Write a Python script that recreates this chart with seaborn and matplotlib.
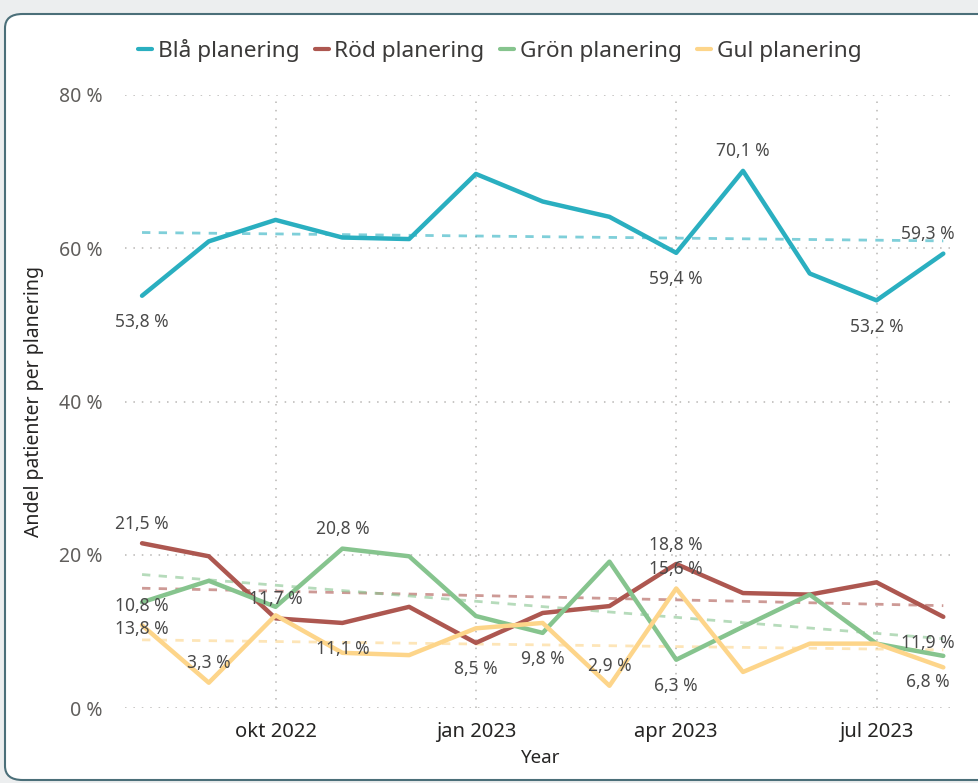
import numpy as np
import pandas as pd
import seaborn as sns
import matplotlib.pyplot as plt
from matplotlib.patches import FancyBboxPatch
from matplotlib.lines import Line2D

sns.set_theme(style="white")
plt.rcParams["font.family"] = ["Noto Sans", "DejaVu Sans"]

months = ["2022-08", "2022-09", "2022-10", "2022-11", "2022-12", "2023-01", "2023-02",
          "2023-03", "2023-04", "2023-05", "2023-06", "2023-07", "2023-08"]
tick_months = ["2022-10", "2023-01", "2023-04", "2023-07"]
tick_labels = ["okt 2022", "jan 2023", "apr 2023", "jul 2023"]

series_names = ["Blå planering", "Röd planering", "Grön planering", "Gul planering"]
bla = [53.8, 60.9, 63.7, 61.4, 61.2, 69.7, 66.1, 64.1, 59.4, 70.1, 56.7, 53.2, 59.3]
rod = [21.5, 19.8, 11.7, 11.1, 13.2, 8.5, 12.4, 13.3, 18.8, 15.0, 14.8, 16.4, 11.9]
gron = [13.8, 16.6, 13.2, 20.8, 19.8, 12.0, 9.8, 19.1, 6.3, 10.6, 14.8, 8.4, 6.8]
gul = [10.8, 3.3, 12.1, 7.2, 6.9, 10.4, 11.1, 2.9, 15.6, 4.7, 8.4, 8.4, 5.3]

colors = ["#2aafc0", "#ad5750", "#86c48e", "#fdd58a"]

# which points carry a data label, and whether it sits above (+1) or below (-1)
label_points = {
    "Blå planering": [(0, -1), (8, -1), (9, 1), (11, -1), (12, 1)],
    "Röd planering": [(0, 1), (2, 1), (3, -1), (5, -1), (8, 1), (12, -1)],
    "Grön planering": [(0, -1), (3, 1), (6, -1), (8, -1), (12, -1)],
    "Gul planering": [(0, 1), (1, 1), (7, 1), (8, 1)],
}

pos = list(range(len(months)))
df = pd.DataFrame({
    "pos": pos * 4,
    "value": bla + rod + gron + gul,
    "serie": np.repeat(series_names, len(months)),
})

fig = plt.figure(figsize=(9.79, 7.83), dpi=100)
fig.patch.set_facecolor("#eceeef")
card = FancyBboxPatch((5 / 979, 3 / 783), 1.2, 766 / 783,
                      boxstyle="round,pad=0,rounding_size=0.018",
                      transform=fig.transFigure, facecolor="white",
                      edgecolor="#4b6f79", linewidth=1.5, zorder=-10)
fig.patches.append(card)

ax = fig.add_axes([125 / 979, 1 - 708 / 783, 831 / 979, 613 / 783])
ax.set_facecolor("none")
ax.set_zorder(2)

# trend lines
for name, vals, c in zip(series_names, [bla, rod, gron, gul], colors):
    sns.regplot(x=pos, y=vals, scatter=False, ci=None, truncate=True, ax=ax,
                line_kws=dict(color=c, ls=(0, (3, 3)), lw=2, alpha=0.6, zorder=2))

sns.lineplot(data=df, x="pos", y="value", hue="serie", palette=colors,
             linewidth=3.2, ax=ax, legend=False, zorder=3)

for name, vals in zip(series_names, [bla, rod, gron, gul]):
    for i, d in label_points[name]:
        dx = -11 if i == len(months) - 1 else 0
        dy = 14 if d > 0 else -19
        ax.annotate(f"{vals[i]:.1f} %".replace(".", ","), (pos[i], vals[i]),
                    xytext=(dx, dy), textcoords="offset points",
                    ha="center", va="center", fontsize=12.5, color="#4a4a4a", zorder=5)

ax.set_xlim(-0.255, 12.19)
ax.set_ylim(0, 80)
ax.set_yticks([0, 20, 40, 60, 80])
ax.set_yticklabels([f"{v} %" for v in [0, 20, 40, 60, 80]])
ax.set_xticks([months.index(m) for m in tick_months])
ax.set_xticklabels(tick_labels)
ax.tick_params(axis="y", length=0, pad=16, labelsize=14, labelcolor="#605e5c")
ax.tick_params(axis="x", length=0, pad=10, labelsize=14.5, labelcolor="#252423")
ax.grid(True, color="#b8b6b4", linestyle=(0, (1, 4.5)), linewidth=1.1)
for s in ax.spines.values():
    s.set_visible(False)

ax.set_xlabel("Year", fontsize=13.5, color="#252423", labelpad=5)
ax.set_ylabel("Andel patienter per planering", fontsize=14, color="#252423")
ax.yaxis.set_label_coords(-0.098, 0.5)

handles = [Line2D([], [], color=c, lw=3) for c in colors]
fig.legend(handles, series_names, loc="center left", bbox_to_anchor=(118 / 979, 1 - 50 / 783),
           ncol=4, frameon=False, fontsize=16.3, handlelength=0.6, handletextpad=0.25,
           columnspacing=0.7, labelcolor="#3b3a39")

fig.savefig("out.png", dpi=100, facecolor=fig.get_facecolor())
